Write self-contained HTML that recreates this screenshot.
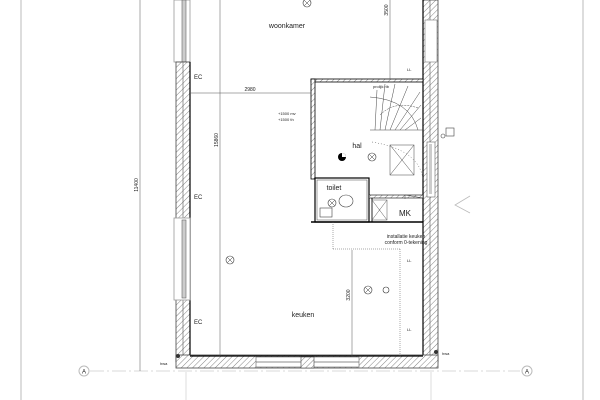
<!DOCTYPE html>
<html><head><meta charset="utf-8"><style>
html,body{margin:0;padding:0;background:#fff}
svg{display:block}
text{font-family:"Liberation Sans",sans-serif;fill:#222}
</style></head><body>
<svg width="600" height="400" viewBox="0 0 600 400" xmlns="http://www.w3.org/2000/svg">
<defs>
<pattern id="h" width="4" height="4" patternUnits="userSpaceOnUse" patternTransform="rotate(45)">
<rect width="4" height="4" fill="#fff"/><line x1="0" y1="0" x2="0" y2="4" stroke="#666" stroke-width="0.8"/>
</pattern>
</defs>
<!-- page border lines -->
<line x1="21" y1="0" x2="21" y2="400" stroke="#bbb" stroke-width="1"/>
<line x1="583" y1="0" x2="583" y2="400" stroke="#bbb" stroke-width="1"/>
<!-- axis -->
<line x1="90" y1="371" x2="520" y2="371" stroke="#ccc" stroke-width="0.8" stroke-dasharray="14,3,2,3"/>
<circle cx="84" cy="371" r="5" fill="#fff" stroke="#bbb"/><text x="84" y="373.5" font-size="6" text-anchor="middle" fill="#aaa">A</text>
<circle cx="527" cy="371" r="5" fill="#fff" stroke="#bbb"/><text x="527" y="373.5" font-size="6" text-anchor="middle" fill="#aaa">A</text>
<line x1="186" y1="372" x2="186" y2="400" stroke="#ddd"/>
<line x1="431" y1="372" x2="431" y2="400" stroke="#ddd"/>
<!-- left window top -->
<rect x="174" y="0" width="16" height="62" fill="#fff" stroke="#999" stroke-width="0.8"/>
<rect x="182" y="0" width="4" height="62" fill="#ccc" stroke="#666" stroke-width="0.6"/>
<!-- left wall -->
<rect x="176" y="62" width="14" height="300" fill="url(#h)" stroke="#444" stroke-width="0.8"/>
<line x1="183" y1="62" x2="183" y2="362" stroke="#555" stroke-width="0.6"/>
<line x1="190" y1="62" x2="190" y2="362" stroke="#000" stroke-width="1.2"/>
<!-- left window middle -->
<rect x="174" y="218" width="16" height="82" fill="#fff" stroke="#999" stroke-width="0.8"/>
<rect x="182" y="220" width="4" height="78" fill="#ccc" stroke="#666" stroke-width="0.6"/>
<!-- right wall -->
<rect x="423" y="0" width="15" height="362" fill="url(#h)" stroke="#444" stroke-width="0.8"/>
<line x1="423" y1="0" x2="423" y2="362" stroke="#000" stroke-width="1.2"/>
<line x1="430" y1="0" x2="430" y2="362" stroke="#555" stroke-width="0.6"/>
<rect x="425" y="20" width="12" height="42" fill="#fff" stroke="#777" stroke-width="0.6"/>
<rect x="427" y="142" width="8" height="55" fill="#fff" stroke="#666" stroke-width="0.6"/>
<rect x="429" y="144" width="3" height="50" fill="#ccc"/>
<!-- bottom wall -->
<rect x="176" y="355" width="262" height="13" fill="url(#h)" stroke="#444" stroke-width="0.8"/>
<line x1="190" y1="356" x2="423" y2="356" stroke="#000" stroke-width="1.2"/>
<rect x="256" y="357" width="103" height="10" fill="#fff" stroke="#666" stroke-width="0.6"/>
<line x1="256" y1="362" x2="359" y2="362" stroke="#666" stroke-width="0.8"/>
<rect x="301" y="357" width="13" height="11" fill="url(#h)" stroke="#444" stroke-width="0.6"/>
<!-- hal box -->
<rect x="311" y="79" width="112" height="3" fill="url(#h)" stroke="#000" stroke-width="0.8"/>
<rect x="311" y="79" width="4" height="100" fill="url(#h)" stroke="#000" stroke-width="0.8"/>
<!-- toilet -->
<rect x="315" y="178" width="54" height="44" fill="none" stroke="#000" stroke-width="1.2"/>
<rect x="317" y="180" width="50" height="40" fill="none" stroke="#444" stroke-width="0.5"/>
<line x1="311" y1="222" x2="423" y2="222" stroke="#000" stroke-width="1.5"/>
<rect x="369" y="195" width="54" height="3" fill="url(#h)" stroke="#000" stroke-width="0.6"/>
<line x1="372" y1="198" x2="372" y2="222" stroke="#000"/>
<rect x="372" y="200" width="15" height="20" fill="none" stroke="#555" stroke-width="0.5"/>
<path d="M372 200 L387 220 M387 200 L372 220" stroke="#555" stroke-width="0.5"/>
<rect x="320" y="208" width="12" height="9" fill="none" stroke="#444" stroke-width="0.6"/>
<ellipse cx="346" cy="201" rx="7" ry="6" fill="none" stroke="#444" stroke-width="0.6"/>
<!-- stairs -->
<g stroke="#444" stroke-width="0.5" fill="none">
<path d="M370 130 L423 130 M370 97 Q410 100 418 130"/>
<path d="M390 130 L408 86 M395 130 L420 92 M400 130 L421 105 M405 130 L421 118 M385 130 L395 84 M380 130 L385 84 M375 130 L377 90"/>
<path d="M380 115 Q395 100 418 108" stroke-dasharray="2,1"/>
<rect x="390" y="145" width="24" height="30"/>
<path d="M390 145 L414 175 M414 145 L390 175"/>
<path d="M372 142 Q420 150 423 180" stroke-dasharray="1,2"/>
<path d="M405 195 L423 198 M405 195 L405 199"/>
</g>
<!-- dimensions -->
<g stroke="#555" stroke-width="0.5">
<line x1="140" y1="0" x2="140" y2="371"/>
<line x1="220" y1="0" x2="220" y2="356"/>
<line x1="190" y1="93" x2="311" y2="93"/>
<line x1="352" y1="250" x2="352" y2="356"/>
<line x1="390" y1="0" x2="390" y2="79"/>
<line x1="333" y1="222" x2="333" y2="249" stroke-dasharray="1,1"/>
<line x1="333" y1="249" x2="400" y2="249" stroke-dasharray="1,1"/>
<line x1="400" y1="249" x2="400" y2="356" stroke-dasharray="1,1"/>
</g>
<text font-size="5" x="250" y="91" text-anchor="middle">2980</text>
<text font-size="5" transform="translate(138,185) rotate(-90)" text-anchor="middle">11400</text>
<text font-size="5" transform="translate(218,140) rotate(-90)" text-anchor="middle">15860</text>
<text font-size="5" transform="translate(350,295) rotate(-90)" text-anchor="middle">3200</text>
<text font-size="5" transform="translate(388,10) rotate(-90)" text-anchor="middle">3500</text>
<!-- labels -->
<text font-size="7" x="287" y="28" text-anchor="middle">woonkamer</text>
<text font-size="7" x="357" y="148" text-anchor="middle">hal</text>
<text font-size="7" x="334" y="190" text-anchor="middle">toilet</text>
<text font-size="8" x="405" y="216" text-anchor="middle">MK</text>
<text font-size="7" x="303" y="317" text-anchor="middle">keuken</text>
<text font-size="5" x="406" y="238" text-anchor="middle">installatie keuken</text>
<text font-size="5" x="406" y="244" text-anchor="middle">conform 0-tekening</text>
<text font-size="4" x="278" y="115">+1500 mv</text>
<text font-size="4" x="278" y="121">+1500 th</text>
<text font-size="4" x="373" y="88">prolijk rib</text>
<!-- EC symbols -->
<g font-size="6">
<text x="194" y="79">EC</text><text x="194" y="199">EC</text><text x="194" y="324">EC</text>
<text x="407" y="71" font-size="4">LL</text><text x="407" y="262" font-size="4">LL</text><text x="407" y="331" font-size="4">LL</text>
<text x="160" y="365" font-size="4">hwa</text><text x="442" y="355" font-size="4">hwa</text>
</g>
<!-- lamps -->
<g fill="#fff" stroke="#333" stroke-width="0.6">
<circle cx="307" cy="3" r="4"/><circle cx="230" cy="260" r="4"/><circle cx="368" cy="290" r="4"/>
<circle cx="372" cy="157" r="4"/><circle cx="332" cy="203" r="4"/><circle cx="386" cy="290" r="3"/>
</g>
<g stroke="#333" stroke-width="0.5">
<path d="M304 0 L310 6 M310 0 L304 6 M227 257 L233 263 M233 257 L227 263 M365 287 L371 293 M371 287 L365 293 M369 154 L375 160 M375 154 L369 160 M329 200 L335 206 M335 200 L329 206"/>
</g>
<circle cx="342" cy="157" r="4" fill="#000"/>
<path d="M342 153 A4 4 0 0 1 346 157 L342 157Z" fill="#fff"/>
<rect x="446" y="128" width="8" height="8" fill="none" stroke="#444" stroke-width="0.6"/>
<circle cx="443" cy="136" r="2" fill="none" stroke="#444" stroke-width="0.6"/>
<path d="M470 196 L455 205 L470 213" fill="none" stroke="#bbb" stroke-width="0.8"/>
<circle cx="178" cy="356" r="2" fill="#333"/><circle cx="436" cy="352" r="2" fill="#333"/>
</svg>
</body></html>
